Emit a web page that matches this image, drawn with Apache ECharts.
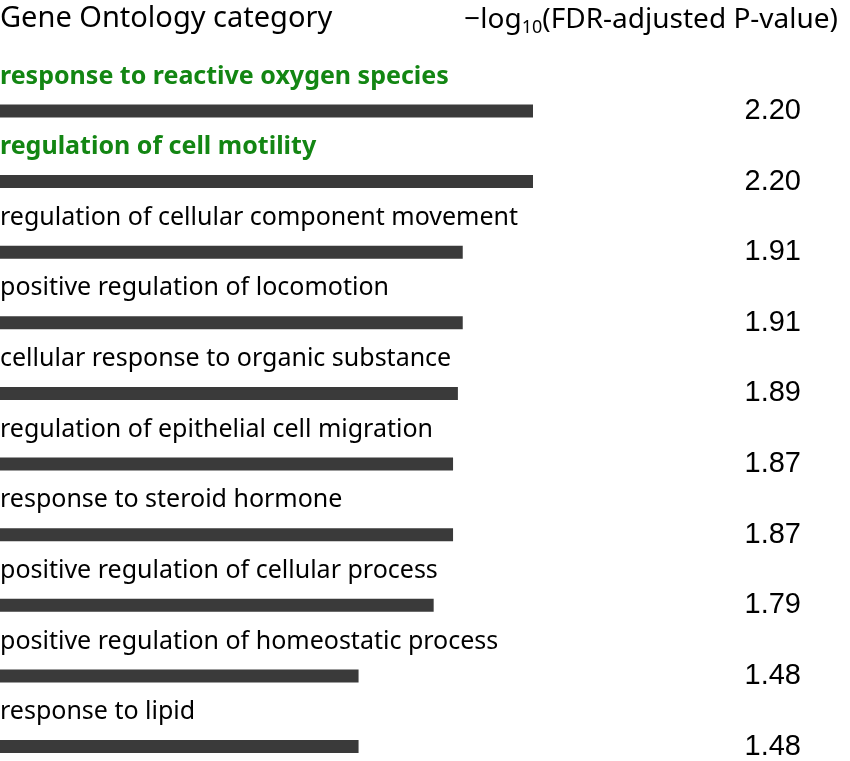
<!DOCTYPE html>
<html><head><meta charset="utf-8">
<script src="https://cdn.jsdelivr.net/npm/echarts@6/dist/echarts.min.js"></script>
<style>html,body{margin:0;padding:0;background:#fff}#c{width:850px;height:761px}</style>
</head><body><div id="c"></div>
<script>
const categories = [
  'response to reactive oxygen species',
  'regulation of cell motility',
  'regulation of cellular component movement',
  'positive regulation of locomotion',
  'cellular response to organic substance',
  'regulation of epithelial cell migration',
  'response to steroid hormone',
  'positive regulation of cellular process',
  'positive regulation of homeostatic process',
  'response to lipid'
];
const values = [2.20, 2.20, 1.91, 1.91, 1.89, 1.87, 1.87, 1.79, 1.48, 1.48];
const highlighted = [true, true, false, false, false, false, false, false, false, false];

const chart = echarts.init(document.getElementById('c'));
const GREEN = '#138613';
chart.setOption({
  animation: false,
  title: [
    { text: 'Gene Ontology category', left: 0, top: 4, padding: 0,
      textStyle: { fontFamily: 'Noto Sans', fontSize: 29, fontWeight: 'normal', color: '#000' } },
    { text: '−log{s|10}(FDR-adjusted P-value)', right: 12, top: 3, padding: 0,
      textStyle: { fontFamily: 'Noto Sans', fontSize: 28, fontWeight: 'normal', color: '#000',
        rich: { s: { fontFamily: 'Noto Sans', fontSize: 18, verticalAlign: 'bottom', padding: [16, 0, 0, 0], color: '#000' } } } }
  ],
  grid: { left: 0, right: 317, top: 111, height: 641 },
  xAxis: { type: 'value', min: 0, max: 2.2, show: false },
  yAxis: [
    { type: 'category', inverse: true, boundaryGap: false, data: categories, show: false },
    { type: 'category', inverse: true, boundaryGap: false, data: values.map(v => v.toFixed(2)), position: 'right',
      axisLine: { show: false }, axisTick: { show: false }, splitLine: { show: false },
      axisLabel: { margin: 268, align: 'right', fontFamily: 'Liberation Sans', fontSize: 29, color: '#000', padding: [3, 0, 0, 0] } }
  ],
  series: [{
    type: 'bar',
    barWidth: 13,
    itemStyle: { color: '#3a3a3a' },
    data: values.map((v, i) => ({
      value: v,
      label: highlighted[i] ? { color: GREEN, fontWeight: 'bold' } : {}
    })),
    label: {
      show: true,
      position: [0, -28],
      align: 'left',
      verticalAlign: 'middle',
      formatter: p => categories[p.dataIndex],
      fontFamily: 'Noto Sans',
      fontSize: 25,
      color: '#000'
    }
  }]
});
</script></body></html>
